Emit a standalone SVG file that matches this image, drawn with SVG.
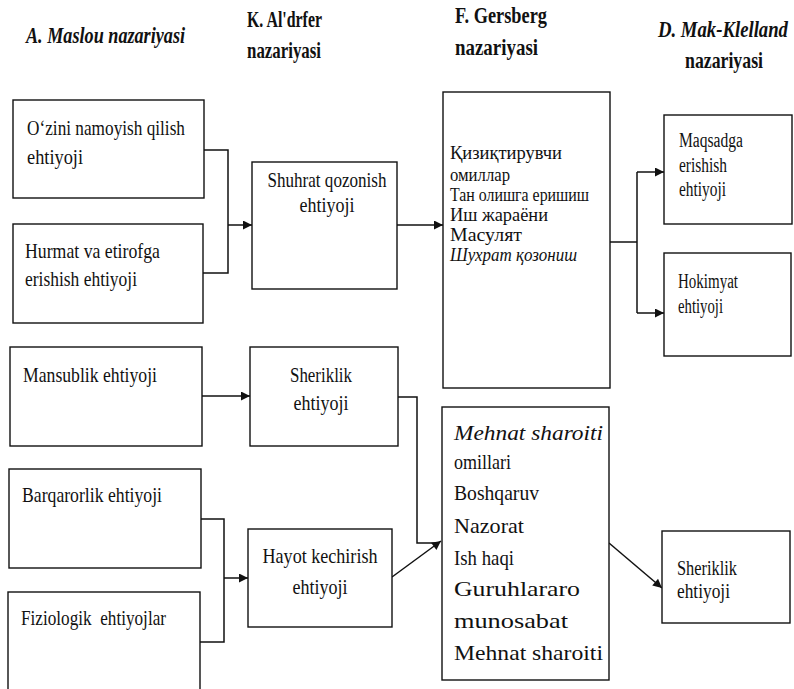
<svg xmlns="http://www.w3.org/2000/svg" width="794" height="689" viewBox="0 0 794 689" font-family="Liberation Serif, DejaVu Serif, serif">
  <style>
    .box { fill: #fff; stroke: #111; stroke-width: 1.4; }
    text { font-family: Liberation Serif, DejaVu Serif, serif; fill: #111; }
    .t { font-size: 21px; }
    .s { font-size: 20px; }
    .c { font-size: 19px; }
    .h { font-size: 23px; font-weight: bold; }
    .it { font-style: italic; }
    .w { stroke: #111; stroke-width: 1.5; fill: none; }
    .pre { white-space: pre; }
  </style>
  <defs>
    <marker id="arrow" viewBox="0 0 10 10" refX="10" refY="5" markerWidth="11" markerHeight="9" markerUnits="userSpaceOnUse" orient="auto">
      <path d="M0,0 L10,5 L0,10 z" fill="#111"/>
    </marker>
  </defs>

  <!-- column headings -->
  <g id="head-maslou">
    <text class="h it" x="26" y="43" textLength="159" lengthAdjust="spacingAndGlyphs">A. Maslou nazariyasi</text>
  </g>
  <g id="head-aldrfer">
    <text class="h" x="247" y="27" textLength="75" lengthAdjust="spacingAndGlyphs">K. Al'drfer</text>
    <text class="h" x="247" y="58" textLength="74" lengthAdjust="spacingAndGlyphs">nazariyasi</text>
  </g>
  <g id="head-gersberg">
    <text class="h" x="455" y="23" textLength="92" lengthAdjust="spacingAndGlyphs">F. Gersberg</text>
    <text class="h" x="455" y="55" textLength="83" lengthAdjust="spacingAndGlyphs">nazariyasi</text>
  </g>
  <g id="head-makklelland">
    <text class="h it" transform="translate(658 37) scale(0.76 1)" x="0" y="0" textLength="171" lengthAdjust="spacingAndGlyphs">D. Mak-Klelland</text>
    <text class="h" x="685" y="68" textLength="78" lengthAdjust="spacingAndGlyphs">nazariyasi</text>
  </g>

  <!-- connectors -->
  <g id="connectors">
    <path class="w" d="M204,150 H228 V273 H203"/>
    <path class="w" d="M228,225 H252" marker-end="url(#arrow)"/>
    <path class="w" d="M397,225 H443" marker-end="url(#arrow)"/>
    <path class="w" d="M610,242 H637"/>
    <path class="w" d="M637,172 V313"/>
    <path class="w" d="M637,172 H664" marker-end="url(#arrow)"/>
    <path class="w" d="M637,313 H664" marker-end="url(#arrow)"/>
    <path class="w" d="M202,396 H250" marker-end="url(#arrow)"/>
    <path class="w" d="M398,397 H417 V543 H438"/>
    <path class="w" d="M392,577 L441,541" marker-end="url(#arrow)"/>
    <path class="w" d="M201,519 H224 V642 H200"/>
    <path class="w" d="M224,578 H248" marker-end="url(#arrow)"/>
    <path class="w" d="M609,543 L662,588" marker-end="url(#arrow)"/>
  </g>

  <!-- Maslou column -->
  <g id="ozini">
    <rect class="box" x="13" y="100" width="191" height="98"/>
    <text class="t" x="27" y="135" textLength="158" lengthAdjust="spacingAndGlyphs">O‘zini namoyish qilish</text>
    <text class="t" x="27" y="164" textLength="56" lengthAdjust="spacingAndGlyphs">ehtiyoji</text>
  </g>
  <g id="hurmat">
    <rect class="box" x="13" y="224" width="190" height="99"/>
    <text class="t" x="25" y="258" textLength="135" lengthAdjust="spacingAndGlyphs">Hurmat va etirofga</text>
    <text class="t" x="25" y="286" textLength="112" lengthAdjust="spacingAndGlyphs">erishish ehtiyoji</text>
  </g>
  <g id="mansublik">
    <rect class="box" x="10" y="347" width="192" height="99"/>
    <text class="t" x="23" y="382" textLength="134" lengthAdjust="spacingAndGlyphs">Mansublik ehtiyoji</text>
  </g>
  <g id="barqarorlik">
    <rect class="box" x="9" y="469" width="192" height="99"/>
    <text class="t" x="22" y="502" textLength="140" lengthAdjust="spacingAndGlyphs">Barqarorlik ehtiyoji</text>
  </g>
  <g id="fiziologik">
    <rect class="box" x="8" y="592" width="192" height="110"/>
    <text class="t pre" x="21" y="625" textLength="145" lengthAdjust="spacingAndGlyphs">Fiziologik  ehtiyojlar</text>
  </g>

  <!-- Al'drfer column -->
  <g id="shuhrat">
    <rect class="box" x="252" y="162" width="145" height="127"/>
    <text class="t" x="327" y="187" text-anchor="middle" textLength="119" lengthAdjust="spacingAndGlyphs">Shuhrat qozonish</text>
    <text class="t" x="327" y="212" text-anchor="middle" textLength="55" lengthAdjust="spacingAndGlyphs">ehtiyoji</text>
  </g>
  <g id="sheriklik-1">
    <rect class="box" x="250" y="347" width="148" height="99"/>
    <text class="t" x="321" y="382" text-anchor="middle" textLength="62" lengthAdjust="spacingAndGlyphs">Sheriklik</text>
    <text class="t" x="321" y="410" text-anchor="middle" textLength="55" lengthAdjust="spacingAndGlyphs">ehtiyoji</text>
  </g>
  <g id="hayot">
    <rect class="box" x="248" y="529" width="144" height="98"/>
    <text class="t" x="320" y="563" text-anchor="middle" textLength="115" lengthAdjust="spacingAndGlyphs">Hayot kechirish</text>
    <text class="t" x="320" y="594" text-anchor="middle" textLength="55" lengthAdjust="spacingAndGlyphs">ehtiyoji</text>
  </g>

  <!-- Gersberg column -->
  <g id="motivators">
    <rect class="box" x="443" y="92" width="167" height="296"/>
    <text class="c" x="450" y="159" textLength="112" lengthAdjust="spacingAndGlyphs">Қизиқтирувчи</text>
    <text class="c" x="450" y="181" textLength="60" lengthAdjust="spacingAndGlyphs">омиллар</text>
    <text class="c" x="450" y="201" textLength="139" lengthAdjust="spacingAndGlyphs">Тан олишга еришиш</text>
    <text class="c" x="450" y="221" textLength="98" lengthAdjust="spacingAndGlyphs">Иш жараёни</text>
    <text class="c" x="450" y="241" textLength="72" lengthAdjust="spacingAndGlyphs">Масулят</text>
    <text class="c it" x="450" y="261" textLength="127" lengthAdjust="spacingAndGlyphs">Шухрат қозониш</text>
  </g>
  <g id="hygiene">
    <rect class="box" x="442" y="407" width="167" height="273"/>
    <text class="t it" x="454" y="440" textLength="149" lengthAdjust="spacingAndGlyphs">Mehnat sharoiti</text>
    <text class="t" x="454" y="469" textLength="57" lengthAdjust="spacingAndGlyphs">omillari</text>
    <text class="t" x="454" y="500" textLength="85" lengthAdjust="spacingAndGlyphs">Boshqaruv</text>
    <text class="t" x="454" y="533" textLength="70" lengthAdjust="spacingAndGlyphs">Nazorat</text>
    <text class="t" x="454" y="565" textLength="60" lengthAdjust="spacingAndGlyphs">Ish haqi</text>
    <text class="t" x="454" y="596" textLength="126" lengthAdjust="spacingAndGlyphs">Guruhlararo</text>
    <text class="t" x="454" y="628" textLength="114" lengthAdjust="spacingAndGlyphs">munosabat</text>
    <text class="t" x="454" y="660" textLength="149" lengthAdjust="spacingAndGlyphs">Mehnat sharoiti</text>
  </g>

  <!-- Mak-Klelland column -->
  <g id="maqsadga">
    <rect class="box" x="664" y="115" width="128" height="109"/>
    <text class="s" x="679" y="147" textLength="64" lengthAdjust="spacingAndGlyphs">Maqsadga</text>
    <text class="s" x="679" y="172" textLength="48" lengthAdjust="spacingAndGlyphs">erishish</text>
    <text class="s" x="679" y="196" textLength="47" lengthAdjust="spacingAndGlyphs">ehtiyoji</text>
  </g>
  <g id="hokimyat">
    <rect class="box" x="664" y="253" width="127" height="103"/>
    <text class="s" x="678" y="288" textLength="60" lengthAdjust="spacingAndGlyphs">Hokimyat</text>
    <text class="s" x="678" y="313" textLength="45" lengthAdjust="spacingAndGlyphs">ehtiyoji</text>
  </g>
  <g id="sheriklik-2">
    <rect class="box" x="662" y="531" width="128" height="92"/>
    <text class="s" x="677" y="575" textLength="60" lengthAdjust="spacingAndGlyphs">Sheriklik</text>
    <text class="s" x="677" y="598" textLength="53" lengthAdjust="spacingAndGlyphs">ehtiyoji</text>
  </g>
</svg>
